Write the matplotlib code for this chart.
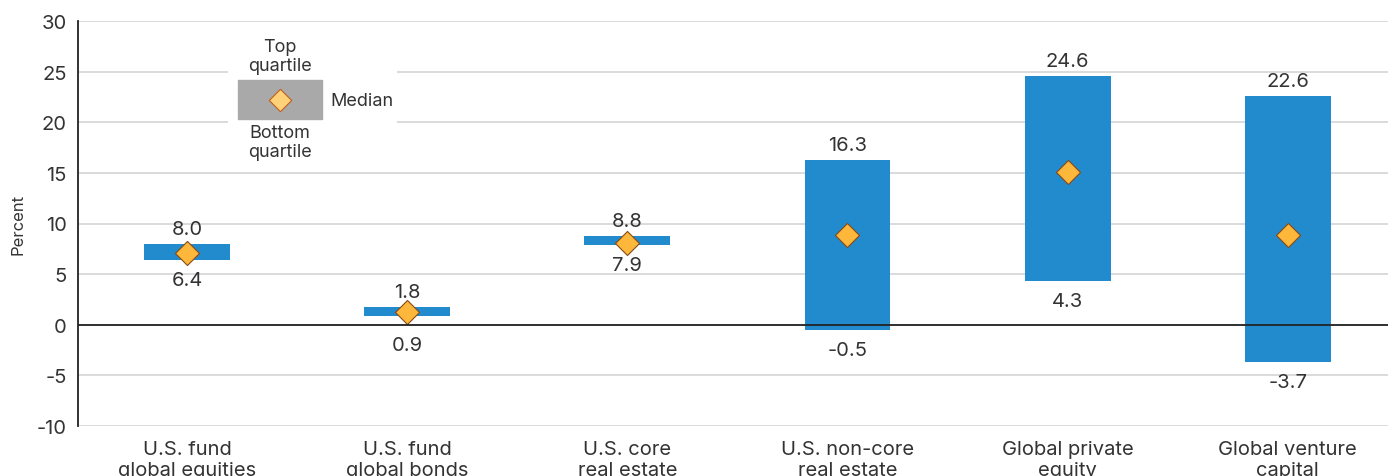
import matplotlib.pyplot as plt
import matplotlib.patches as mpatches
import numpy as np

# data
categories = ["U.S. fund\nglobal equities", "U.S. fund\nglobal bonds", "U.S. core\nreal estate",
              "U.S. non-core\nreal estate", "Global private\nequity", "Global venture\ncapital"]
top_quartile = [8.0, 1.8, 8.8, 16.3, 24.6, 22.6]
bottom_quartile = [6.4, 0.9, 7.9, -0.5, 4.3, -3.7]
median = [7.1, 1.3, 8.1, 8.9, 15.1, 8.9]

plt.rcParams['font.family'] = ['Inter', 'DejaVu Sans']
plt.rcParams['axes.unicode_minus'] = False

BAR_BLUE = "#228bcd"
DIAMOND = "#fdb73a"
DIAMOND_EDGE = "#8a4a14"
TEXT = "#333333"

W, H = 1388, 477
fig = plt.figure(figsize=(W / 100, H / 100), dpi=100)
ax = fig.add_axes([78 / W, 50 / H, 1 - 78 / W, 405 / H])

x = np.arange(len(categories))
top = np.array(top_quartile)
bot = np.array(bottom_quartile)
ax.bar(x, top - bot, bottom=bot, width=0.39, color=BAR_BLUE, zorder=3)
ax.scatter(x, median, marker='D', s=150, color=DIAMOND, edgecolor=DIAMOND_EDGE,
           linewidth=0.8, zorder=4)

for i in range(len(x)):
    ax.annotate(f"{top[i]:.1f}", (x[i], top[i]), xytext=(0, 4), textcoords='offset points',
                ha='center', va='bottom', fontsize=14.5, color=TEXT)
    # small positive bottoms get pushed below the zero line
    anchor = 0 if 0 < bot[i] < 1.5 else bot[i]
    ax.annotate(f"{bot[i]:.1f}", (x[i], anchor), xytext=(0, -8), textcoords='offset points',
                ha='center', va='top', fontsize=14.5, color=TEXT)

ax.set_xlim(-0.495, 5.455)
ax.set_ylim(-10, 30)
ax.set_yticks(np.arange(-10, 31, 5))
ax.set_xticks(x)
ax.set_xticklabels(categories, fontsize=14.5, color=TEXT, linespacing=1.2)
ax.tick_params(axis='x', length=0, pad=10)
ax.tick_params(axis='y', length=0, labelsize=14.5, labelcolor=TEXT, pad=8)
ax.grid(axis='y', color='#d4d4d4', linewidth=1.2, zorder=0)
ax.axhline(0, color='#222222', linewidth=1.3, zorder=5)
for s in ['top', 'right', 'bottom']:
    ax.spines[s].set_visible(False)
ax.spines['left'].set_color('#222222')
ax.spines['left'].set_linewidth(1.3)
ax.set_ylabel("Percent", fontsize=12, color=TEXT, labelpad=8)

# legend box drawn in its own axes (pixel coords, y down)
lg = fig.add_axes([228 / W, (H - 165) / H, (397 - 228) / W, (165 - 30) / H])
lg.set_xlim(228, 397)
lg.set_ylim(165, 30)
lg.set_facecolor('white')
lg.axis('off')
lg.add_patch(mpatches.Rectangle((228, 30), 169, 135, color='white', zorder=0))
lg.add_patch(mpatches.Rectangle((238, 81), 84, 39, color='#a9a9a9', zorder=1))
lg.scatter([280], [101], marker='D', s=130, color='#ffd27a', edgecolor='#c0601a',
           linewidth=0.8, zorder=2)
lg.text(330, 101, "Median", fontsize=13, color=TEXT, va='center', ha='left')
lg.text(280, 57, "Top\nquartile", fontsize=13, color=TEXT, va='center', ha='center',
        linespacing=1.15)
lg.text(280, 143, "Bottom\nquartile", fontsize=13, color=TEXT, va='center', ha='center',
        linespacing=1.15)

fig.savefig("out.png", dpi=100)
